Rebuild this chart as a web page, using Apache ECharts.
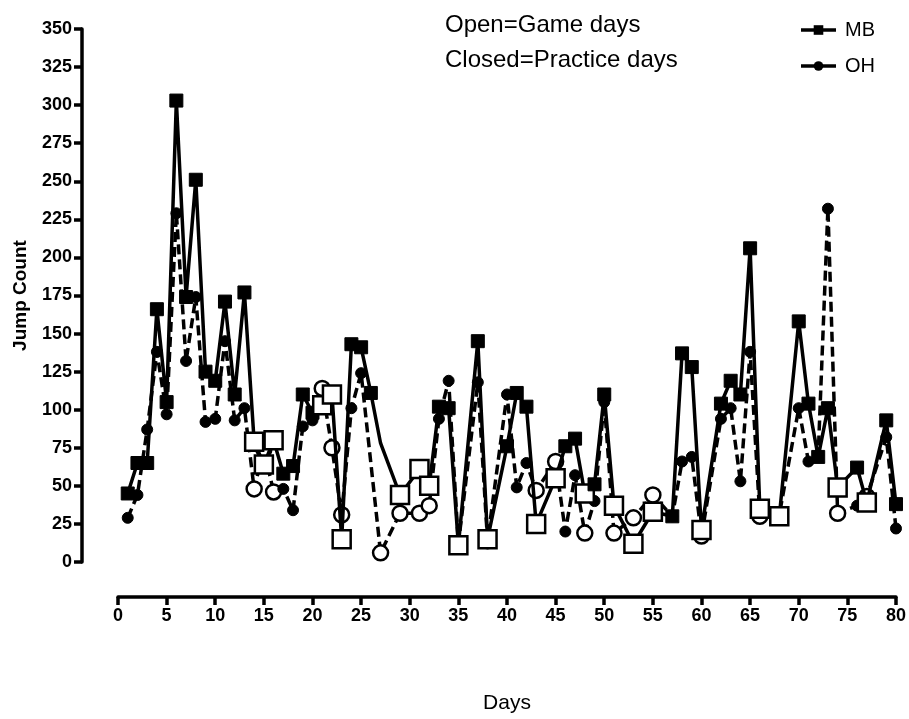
<!DOCTYPE html>
<html>
<head>
<meta charset="utf-8">
<script src="https://cdn.jsdelivr.net/npm/echarts@6/dist/echarts.min.js"></script>
<style>
  html, body { margin: 0; padding: 0; background: #fff; }
  #chart { width: 909px; height: 719px; }
</style>
</head>
<body>
<div id="chart"></div>
<script>
// Daily jump counts for middle blockers (MB) and outside hitters (OH)
const mbDays = [1,2,3,4,5,6,7,8,9,10,11,12,13,14,15,16,17,18,19,20,21,22,23,24,25,26,27,29,31,32,33,34,35,37,38,40,41,42,43,45,46,47,48,49,50,51,53,55,57,58,59,60,62,63,64,65,66,68,70,71,72,73,74,76,77,79,80];
const mbJumps = [45,65,65,166,105,303,174,251,125,119,171,110,177,79,64,80,58,63,110,98,103,110,15,143,141,111,78,44,61,50,102,101,11,145,15,76,111,102,25,55,76,81,45,51,110,37,12,33,30,137,128,21,104,119,110,206,35,30,158,104,69,101,49,62,39,93,38];

const ohDays = [1,2,3,4,5,6,7,8,9,10,11,12,13,14,15,16,17,18,19,20,21,22,23,24,25,27,29,31,32,33,34,35,37,38,40,41,42,43,45,46,47,48,49,50,51,53,55,57,58,59,60,62,63,64,65,66,68,70,71,72,73,74,76,77,79,80];
const ohJumps = [29,44,87,138,97,229,132,174,92,94,145,93,101,48,74,46,48,34,89,93,114,75,31,101,124,6,32,32,37,94,119,12,118,14,110,49,65,47,66,20,57,19,40,105,19,29,44,30,66,69,17,94,101,53,138,30,31,101,66,70,232,32,37,43,82,22];

// Game days are drawn with open markers, practice days with filled ones
const gameDays = [14,15,16,21,22,23,27,29,31,32,35,38,43,45,48,51,53,55,60,66,68,74,77];
// MB day 27 has no marker of its own
const mbNoMarker = [27];

const yTicks = { min: 0, max: 350, step: 25 };
const xTicks = { min: 0, max: 80, step: 5 };

function buildPoints(days, vals, filledSize, openSize, hidden) {
  return days.map((d, i) => {
    const game = gameDays.includes(d);
    const item = { value: [d, vals[i]] };
    if (hidden && hidden.includes(d)) {
      item.symbol = 'none';
    } else if (game) {
      item.symbolSize = openSize;
      item.itemStyle = { color: '#ffffff', borderColor: '#000000', borderWidth: 2.5 };
    } else {
      item.symbolSize = filledSize;
    }
    return item;
  });
}

const chart = echarts.init(document.getElementById('chart'), null, { renderer: 'canvas' });
const tickFont = "'Liberation Sans', Arial, sans-serif";
const legendLine = { color: '#000', width: 3.5, type: 'solid' };

chart.setOption({
  animation: false,
  backgroundColor: '#ffffff',
  grid: { left: 118, right: 12, top: 29, bottom: 154, containLabel: false },
  legend: {
    orient: 'vertical',
    right: 29,
    top: 15,
    itemGap: 16,
    itemWidth: 35,
    itemHeight: 12,
    textStyle: { fontFamily: tickFont, fontSize: 20, color: '#000', padding: [0, 0, 0, 4] },
    data: [
      { name: 'MB', lineStyle: legendLine },
      { name: 'OH', lineStyle: legendLine }
    ]
  },
  graphic: [
    { type: 'text', left: 445, top: 13, style: { text: 'Open=Game days', font: "24px 'Liberation Sans', Arial, sans-serif", fill: '#000' } },
    { type: 'text', left: 445, top: 48, style: { text: 'Closed=Practice days', font: "24px 'Liberation Sans', Arial, sans-serif", fill: '#000' } }
  ],
  xAxis: {
    type: 'value',
    min: xTicks.min,
    max: xTicks.max,
    interval: xTicks.step,
    offset: 35,
    name: 'Days',
    nameLocation: 'middle',
    nameGap: 96,
    nameTextStyle: { fontFamily: tickFont, fontSize: 21, color: '#000' },
    axisLine: { show: true, onZero: false, lineStyle: { color: '#000', width: 3.5 } },
    axisTick: { show: true, inside: false, length: 8, lineStyle: { color: '#000', width: 3.5 } },
    axisLabel: { fontFamily: tickFont, fontWeight: 'bold', fontSize: 18, color: '#000', margin: 10 },
    splitLine: { show: false }
  },
  yAxis: {
    type: 'value',
    min: yTicks.min,
    max: yTicks.max,
    interval: yTicks.step,
    offset: 36,
    name: 'Jump Count',
    nameLocation: 'middle',
    nameGap: 52,
    nameTextStyle: { fontFamily: tickFont, fontWeight: 'bold', fontSize: 19, color: '#000' },
    axisLine: { show: true, onZero: false, lineStyle: { color: '#000', width: 3.5 } },
    axisTick: { show: true, inside: false, length: 8, lineStyle: { color: '#000', width: 3.5 } },
    axisLabel: { fontFamily: tickFont, fontWeight: 'bold', fontSize: 18, color: '#000', margin: 10 },
    splitLine: { show: false }
  },
  series: [
    {
      name: 'MB',
      type: 'line',
      symbol: 'rect',
      symbolSize: 12,
      showAllSymbol: true,
      lineStyle: { color: '#000', width: 3.5, type: 'solid' },
      itemStyle: { color: '#000', borderColor: '#000' },
      data: buildPoints(mbDays, mbJumps, 13, 18, mbNoMarker),
      z: 3
    },
    {
      name: 'OH',
      type: 'line',
      symbol: 'circle',
      symbolSize: 11,
      showAllSymbol: true,
      lineStyle: { color: '#000', width: 3.5, type: [10, 5] },
      itemStyle: { color: '#000', borderColor: '#000' },
      data: buildPoints(ohDays, ohJumps, 11, 15),
      z: 2
    }
  ]
});
</script>
</body>
</html>
